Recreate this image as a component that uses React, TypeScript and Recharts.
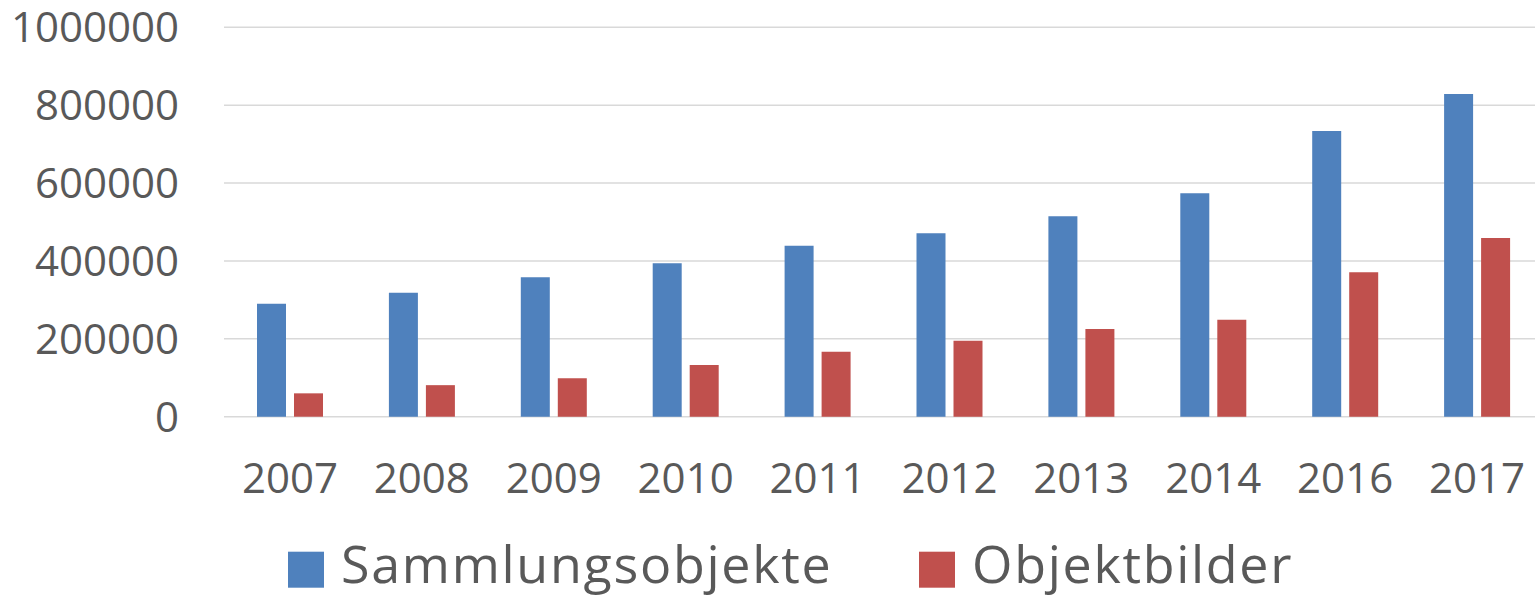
import React from "react";
import { BarChart, Bar, XAxis, YAxis, CartesianGrid, Legend } from "recharts";

const years = ["2007", "2008", "2009", "2010", "2011", "2012", "2013", "2014", "2016", "2017"];
const sammlungsobjekte = [290000, 318000, 358000, 394000, 439000, 471000, 515000, 574000, 734000, 829000];
const objektbilder = [60000, 81000, 99000, 133000, 167000, 195000, 225000, 249000, 371000, 459000];
const yTicks = [0, 200000, 400000, 600000, 800000, 1000000];
const seriesNames = ["Sammlungsobjekte", "Objektbilder"];
const seriesColors = ["#4F81BD", "#C0504D"];

const data = years.map((y, i) => ({
  year: y,
  Sammlungsobjekte: sammlungsobjekte[i],
  Objektbilder: objektbilder[i],
}));

const FONT = "'Open Sans', sans-serif";
const TEXT = "#595959";
const legendX = [288, 919];

const LegendContent = () => {
  return (
    <svg width={1535} height={79} style={{ display: "block", overflow: "visible" }}>
      {seriesNames.map((name, i) => (
        <g key={name}>
          <rect x={legendX[i]} y={31.7} width={36} height={36} fill={seriesColors[i]} />
          <text
            x={legendX[i] + 53}
            y={63}
            fontFamily={FONT}
            fontSize={52}
            letterSpacing={1.7}
            fill={TEXT}
          >
            {name}
          </text>
        </g>
      ))}
    </svg>
  );
};

export default function App() {
  return (
    <div style={{ position: "absolute", left: 0, top: 0, width: 1535, height: 599, overflow: "hidden", background: "#fff" }}>
      <BarChart
        width={1543}
        height={599}
        data={data}
        margin={{ top: 27.3, right: 0, left: 0, bottom: 3.3 }}
        barGap={8}
        barSize={29}
      >
        <CartesianGrid vertical={false} stroke="#D9D9D9" strokeWidth={1.5} />
        <XAxis
          dataKey="year"
          height={100}
          axisLine={false}
          tickLine={false}
          tickSize={0}
          tickMargin={46.6}
          tick={{ fill: TEXT, fontSize: 42, fontFamily: FONT }}
          interval={0}
        />
        <YAxis
          width={224}
          domain={[0, 1000000]}
          ticks={yTicks}
          axisLine={false}
          tickLine={false}
          tickSize={0}
          tickMargin={45}
          tick={{ fill: TEXT, fontSize: 42, fontFamily: FONT }}
          interval={0}
        />
        <Legend
          verticalAlign="bottom"
          height={79}
          content={LegendContent}
          wrapperStyle={{ left: 0, top: 520, bottom: "auto", width: 1535, height: 79 }}
        />
        <Bar dataKey={seriesNames[0]} fill={seriesColors[0]} isAnimationActive={false} />
        <Bar dataKey={seriesNames[1]} fill={seriesColors[1]} isAnimationActive={false} />
      </BarChart>
    </div>
  );
}
